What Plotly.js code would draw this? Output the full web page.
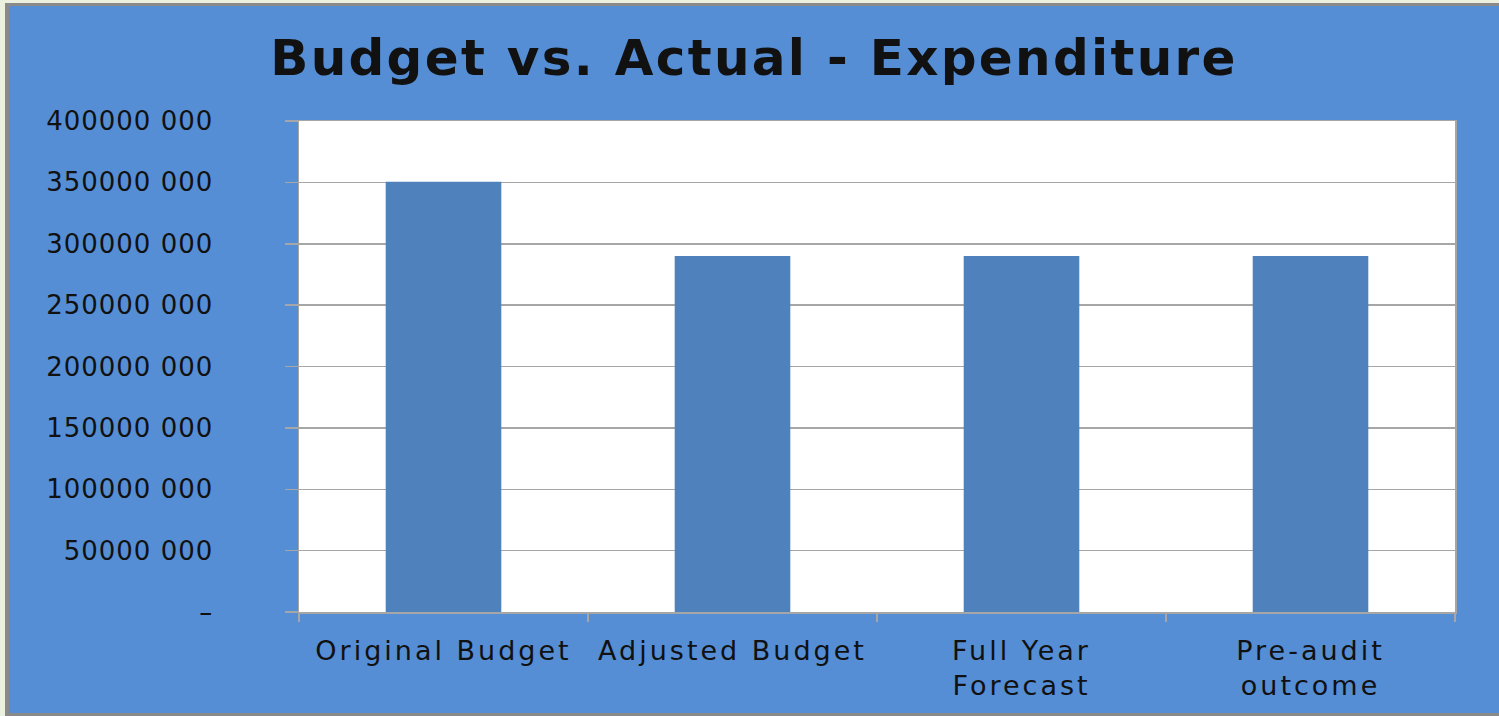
<!DOCTYPE html>
<html>
<head>
<meta charset="utf-8">
<script src="https://cdn.plot.ly/plotly-3.0.1.min.js"></script>
<style>
  html, body { margin: 0; padding: 0; background: #EBF1DE; width: 1499px; height: 716px; overflow: hidden; }
  #frame { position: absolute; left: 5px; top: 3px; width: 1490px; height: 707px;
           border-left: 4px solid #8A8A8A; border-top: 3px solid #8A8A8A; border-bottom: 3px solid #8A8A8A;
           background: #558ED5; }
  #chart { width: 1490px; height: 707px; }
  #chart g.xtick text { letter-spacing: 3px; }
  #chart g.ytick text { letter-spacing: 1px; }
  #chart g.g-gtitle text { letter-spacing: 2.3px; }
</style>
</head>
<body>
<div id="frame"><div id="chart"></div></div>
<script>
const categories = ["Original Budget", "Adjusted Budget", "Full Year<br>Forecast", "Pre-audit<br>outcome"];
const expenditure = [350500000, 290000000, 290000000, 290000000];
const yTickValues = [0, 50000000, 100000000, 150000000, 200000000, 250000000, 300000000, 350000000, 400000000];
const yTickLabels = ["–", "50000 000", "100000 000", "150000 000", "200000 000", "250000 000", "300000 000", "350000 000", "400000 000"];

const fontFamily = '"DejaVu Sans", Verdana, sans-serif';
const gridGray = '#A6A6A6';

const trace = {
  type: 'bar',
  x: categories,
  y: expenditure,
  marker: { color: '#4F81BD', line: { width: 0 } },
  hoverinfo: 'x+y'
};

const layout = {
  width: 1490,
  height: 707,
  paper_bgcolor: '#558ED5',
  plot_bgcolor: '#FFFFFF',
  margin: { l: 290, r: 44, t: 115, b: 101, pad: 0 },
  bargap: 0.6,
  showlegend: false,
  title: {
    text: '<b>Budget vs. Actual - Expenditure</b>',
    font: { family: fontFamily, size: 50, color: '#111111' },
    x: 745 / 1490, xanchor: 'center', xref: 'container',
    y: 1 - 51 / 707, yanchor: 'middle', yref: 'container'
  },
  xaxis: {
    type: 'category',
    tickson: 'boundaries',
    ticks: 'outside', ticklen: 8, tickwidth: 1.5, tickcolor: gridGray,
    showline: true, linecolor: gridGray, linewidth: 1.5, mirror: true,
    showgrid: false, zeroline: false,
    ticklabelstandoff: 14,
    tickfont: { family: fontFamily, size: 27, color: '#111111' }
  },
  yaxis: {
    range: [0, 400000000],
    tickmode: 'array',
    tickvals: yTickValues,
    ticktext: yTickLabels,
    ticks: 'outside', ticklen: 13, tickwidth: 1.5, tickcolor: gridGray,
    showline: true, linecolor: gridGray, linewidth: 1.5, mirror: true,
    showgrid: true, gridcolor: gridGray, gridwidth: 1.5,
    zeroline: false,
    ticklabelstandoff: 66,
    tickfont: { family: fontFamily, size: 26, color: '#111111' }
  }
};

Plotly.newPlot('chart', [trace], layout, { displayModeBar: false, staticPlot: true });
</script>
</body>
</html>
